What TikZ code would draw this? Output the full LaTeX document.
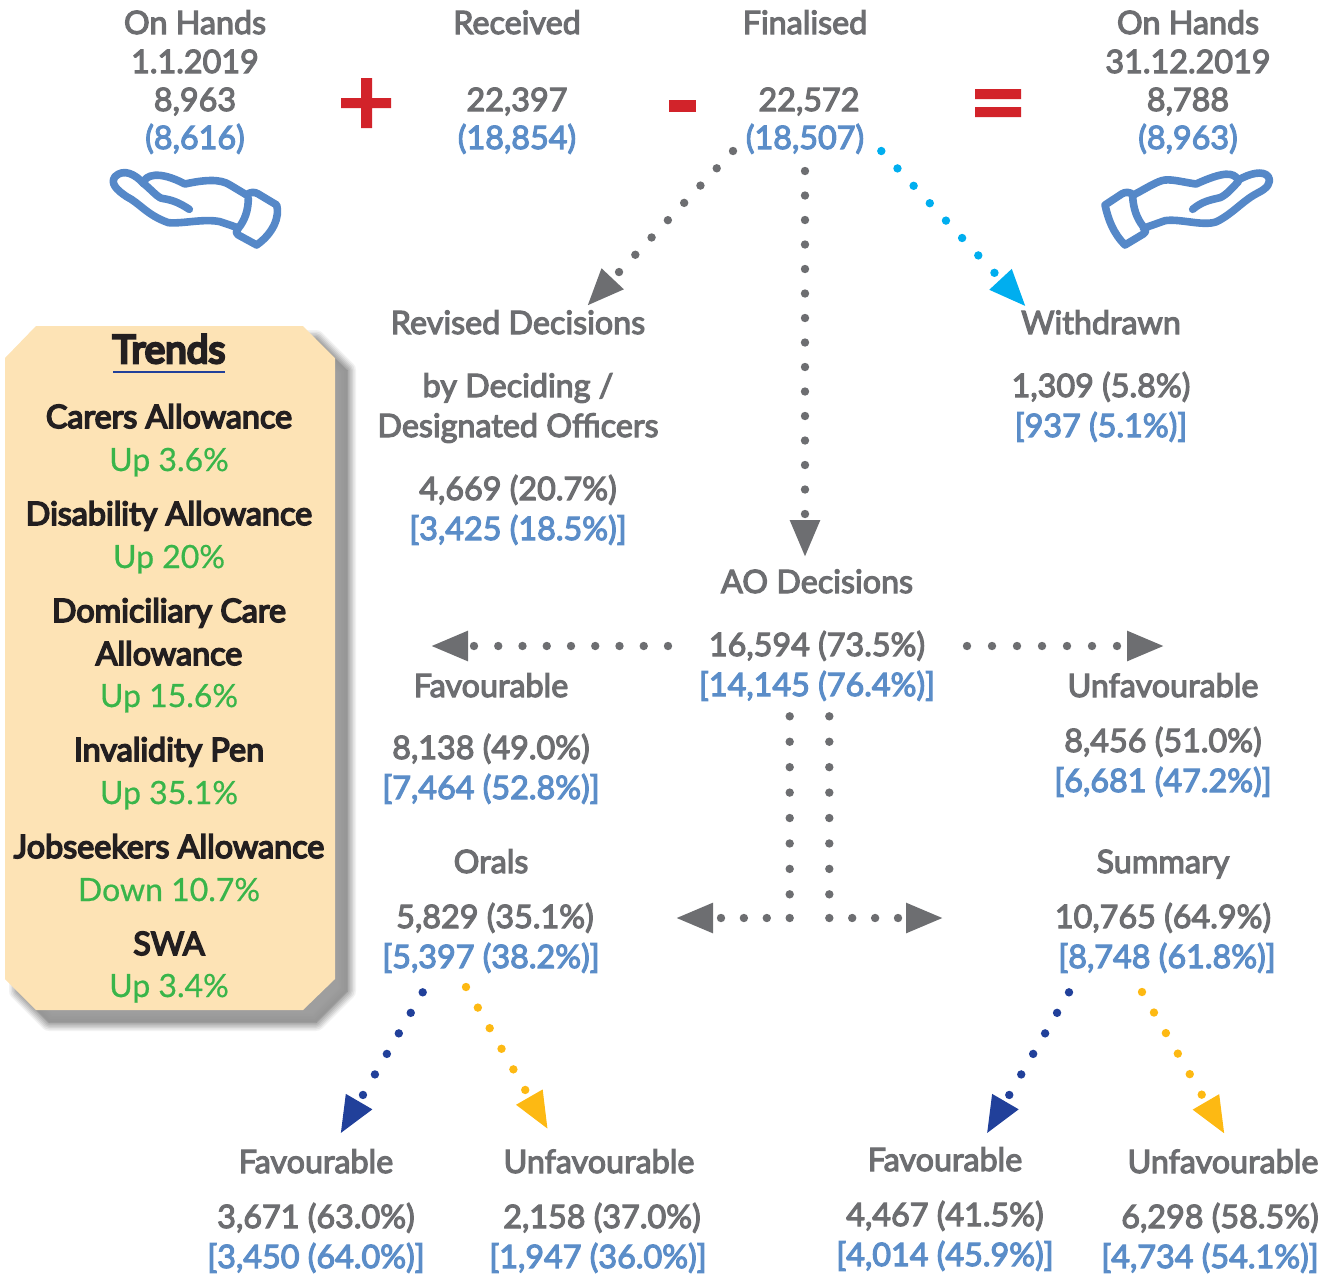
\documentclass[tikz,border=0pt]{standalone}
\usepackage{fontspec}
\setmainfont{Lato}[FakeBold=3.6]
\newfontfamily\latoreg{Lato}[FakeBold=0.6]
\newfontfamily\latobold{Lato}[FakeBold=7]
\newfontfamily\latodark{Lato}[FakeBold=5]
\usetikzlibrary{arrows.meta}
\definecolor{txtgray}{HTML}{6D6E71}
\definecolor{txtblue}{HTML}{5B8DC8}
\definecolor{txtdark}{HTML}{231F20}
\definecolor{txtgreen}{HTML}{39B54A}
\definecolor{panelfill}{HTML}{FDE3B5}
\definecolor{opred}{HTML}{D2232A}
\definecolor{acyan}{HTML}{00AEEF}
\definecolor{anavy}{HTML}{21409A}
\definecolor{agold}{HTML}{FDB913}
\definecolor{handblue}{HTML}{5588C8}
\tikzset{
  x=1pt,y=-1pt,
  lab/.style={anchor=base,inner sep=0pt,outer sep=0pt,yshift=-1pt,font=\fontsize{32.3}{32}\selectfont},
  g/.style={lab,text=txtgray},
  b/.style={lab,text=txtblue},
  pk/.style={anchor=base,inner sep=0pt,yshift=-1pt,font=\fontsize{32.3}{32}\selectfont\latodark,text=txtdark},
  pg/.style={anchor=base,inner sep=0pt,yshift=-1pt,font=\fontsize{32}{32}\selectfont\latoreg,text=txtgreen},
  conn/.style={line width=8.4pt,line cap=round,dash pattern=on 0pt off 23.75pt,color=#1,shorten >=-1.5pt,
     -{Triangle[length=37.5pt,width=28pt,color=#1]}},
  bent/.style={dash pattern=on 0pt off 25.43pt on 0pt off 25.43pt on 0pt off 25.43pt on 0pt off 25.43pt on 0pt off 25.43pt on 0pt off 25.43pt on 0pt off 25.43pt on 0pt off 23.7pt on 0pt off 22.9pt on 0pt off 22.9pt on 0pt off 22.9pt on 0pt off 22.9pt},
  hand/.style={draw=handblue,line width=7.6pt,line cap=round,line join=round},
}
\begin{document}
\begin{tikzpicture}
\useasboundingbox (0,0) rectangle (1327,1275);
% top row
\node[g] (n1) at (195,33) {On Hands};
\node[g] (n2) at (195,72) {1.1.2019};
\node[g] (n3) at (195,110) {8,963};
\node[b] (n4) at (195,148) {(8,616)};
\node[g] (r1) at (517,33) {Received};
\node[g] (r2) at (517,110) {22,397};
\node[b] (r3) at (517,148) {(18,854)};
\node[g] (f1) at (805,33) {Finalised};
\node[g] (f2) at (809,110) {22,572};
\node[b] (f3) at (805,148) {(18,507)};
\node[g] (e1) at (1188,33) {On Hands};
\node[g] (e2) at (1188,72) {31.12.2019};
\node[g] (e3) at (1188,110) {8,788};
\node[b] (e4) at (1188,148) {(8,963)};
% operators
\fill[opred] (341,98) rectangle (391,108) (361,78) rectangle (372,128);
\fill[opred] (669,100) rectangle (696,112);
\fill[opred] (975,89) rectangle (1021,99) (975,107) rectangle (1021,117);
% hands
\begin{scope}[shift={(90,150)},x=0.3333pt,y=-0.3333pt]
\draw[hand] (160,100) .. controls (135,72) and (100,55) .. (75,80) .. controls (60,100) and (80,120) .. (110,140)
  .. controls (150,160) and (170,195) .. (235,218) .. controls (280,222) and (340,205) .. (390,215) -- (440,232);
\draw[hand] (160,100) .. controls (165,75) and (205,60) .. (285,102) .. controls (340,90) and (390,85) .. (420,105) -- (470,135);
\draw[hand] (160,100) .. controls (180,115) and (200,140) .. (215,145) .. controls (250,150) and (270,160) .. (298,178);
\draw[hand] (470,135) .. controls (480,125) and (495,125) .. (505,132) -- (560,165)
  .. controls (570,200) and (550,250) .. (500,285) -- (445,255) .. controls (435,248) and (440,240) .. (445,235)
  .. controls (465,210) and (475,180) .. (475,145);
\end{scope}
\begin{scope}[shift={(1090,150)},x=0.3333pt,y=-0.3333pt]
\draw[hand] (445,90) .. controls (480,70) and (520,60) .. (535,80) .. controls (545,100) and (530,115) .. (505,128)
  .. controls (460,150) and (430,190) .. (380,215) .. controls (340,230) and (270,205) .. (225,212) -- (160,235);
\draw[hand] (445,90) .. controls (430,65) and (400,65) .. (318,102) .. controls (270,95) and (240,85) .. (215,92) .. controls (190,100) and (160,120) .. (130,135);
\draw[hand] (445,95) .. controls (430,110) and (410,135) .. (390,143) .. controls (360,150) and (335,155) .. (308,178);
\draw[hand] (130,135) .. controls (120,125) and (105,125) .. (95,132) -- (45,165)
  .. controls (55,210) and (70,250) .. (105,285) -- (160,252) .. controls (172,245) and (165,235) .. (160,230)
  .. controls (140,205) and (130,175) .. (128,140);
\end{scope}
% panel
\foreach \w/\o in {18/.12,15/.16,12/.2,9/.24,6/.3,3/.38,0/.5}{
  \filldraw[line join=round,line width=\w pt,color=black!42,opacity=\o]
   (49,339) -- (316,339) -- (347,370) -- (347,991) -- (316,1022) -- (49,1022) -- (18,991) -- (18,370) -- cycle;
}
\fill[panelfill] (36,326) -- (303,326) -- (335,358) -- (335,979) -- (303,1010) -- (36,1010) -- (5,979) -- (5,358) -- cycle;
\node[anchor=base,inner sep=0pt,font=\fontsize{38.8}{38}\selectfont\latobold,text=txtdark] (t0) at (169,363) {Trends};
\draw[anavy,line width=1.5pt] (113,372) -- (225,372);
\node[pk] (t1) at (169,427) {Carers Allowance};
\node[pg] (t2) at (169,470) {Up 3.6\%};
\node[pk] (t3) at (169,524) {Disability Allowance};
\node[pg] (t4) at (169,567) {Up 20\%};
\node[pk] (t5) at (169,621) {Domiciliary Care};
\node[pk] (t6) at (169,664) {Allowance};
\node[pg] (t7) at (169,706) {Up 15.6\%};
\node[pk] (t8) at (169,760) {Invalidity Pen};
\node[pg] (t9) at (169,803) {Up 35.1\%};
\node[pk] (t10) at (169,857) {Jobseekers Allowance};
\node[pg] (t11) at (169,900) {Down 10.7\%};
\node[pk] (t12) at (169,954) {SWA};
\node[pg] (t13) at (169,996) {Up 3.4\%};
% middle
\node[g] (rd1) at (518,333) {Revised Decisions};
\node[g] (rd2) at (518,396) {by Deciding /};
\node[g] (rd3) at (518,436) {Designated Officers};
\node[g] (rd4) at (518,499) {4,669 (20.7\%)};
\node[b] (rd5) at (518,539) {[3,425 (18.5\%)]};
\node[g] (w1) at (1101,333) {Withdrawn};
\node[g] (w2) at (1101,396) {1,309 (5.8\%)};
\node[b] (w3) at (1101,436) {[937 (5.1\%)]};
\node[g] (ao1) at (817,592) {AO Decisions};
\node[g] (ao2) at (817,655) {16,594 (73.5\%)};
\node[b] (ao3) at (817,695) {[14,145 (76.4\%)]};
\node[g] (fa1) at (491,696) {Favourable};
\node[g] (fa2) at (491,758) {8,138 (49.0\%)};
\node[b] (fa3) at (491,798) {[7,464 (52.8\%)]};
\node[g] (un1) at (1163,696) {Unfavourable};
\node[g] (un2) at (1163,751) {8,456 (51.0\%)};
\node[b] (un3) at (1163,791) {[6,681 (47.2\%)]};
\node[g] (or1) at (491,872) {Orals};
\node[g] (or2) at (495,927) {5,829 (35.1\%)};
\node[b] (or3) at (491,967) {[5,397 (38.2\%)]};
\node[g] (su1) at (1163,872) {Summary};
\node[g] (su2) at (1163,927) {10,765 (64.9\%)};
\node[b] (su3) at (1167,967) {[8,748 (61.8\%)]};
% bottom
\node[g] (a1) at (316,1172) {Favourable};
\node[g] (a2) at (316,1227) {3,671 (63.0\%)};
\node[b] (a3) at (316,1267) {[3,450 (64.0\%)]};
\node[g] (c1) at (599,1172) {Unfavourable};
\node[g] (c2) at (602,1227) {2,158 (37.0\%)};
\node[b] (c3) at (598,1267) {[1,947 (36.0\%)]};
\node[g] (d1) at (945,1170) {Favourable};
\node[g] (d2) at (945,1225) {4,467 (41.5\%)};
\node[b] (d3) at (945,1265) {[4,014 (45.9\%)]};
\node[g] (h1) at (1223,1172) {Unfavourable};
\node[g] (h2) at (1220,1227) {6,298 (58.5\%)};
\node[b] (h3) at (1210,1267) {[4,734 (54.1\%)]};
% connector ends
\coordinate (s1) at (733,151); \coordinate (e1c) at (588,305);
\coordinate (s2) at (805,171); \coordinate (e2c) at (805,556);
\coordinate (s3) at (881.3,151); \coordinate (e3c) at (1025,305.7);
\coordinate (s4) at (668,646); \coordinate (e4c) at (432,646);
\coordinate (s5) at (967,646); \coordinate (e5c) at (1163,646);
\coordinate (s6) at (789.7,716.3); \coordinate (k6) at (789.7,918); \coordinate (e6c) at (677,918);
\coordinate (s7) at (829.3,716.3); \coordinate (k7) at (829.3,918); \coordinate (e7c) at (942,918);
\coordinate (s8) at (422.7,992.3); \coordinate (e8c) at (341,1132.7);
\coordinate (s9) at (466,987); \coordinate (e9c) at (547.3,1128.3);
\coordinate (s10) at (1069,992.3); \coordinate (e10c) at (987.3,1132.7);
\coordinate (s11) at (1142,992); \coordinate (e11c) at (1224,1133);
\draw[conn=txtgray] (s1) -- (e1c);
\draw[conn=txtgray,dash pattern=on 0pt off 24.5pt] (s2) -- (e2c);
\draw[conn=acyan] (s3) -- (e3c);
\draw[conn=txtgray,dash pattern=on 0pt off 24.25pt] (s4) -- (e4c);
\draw[conn=txtgray,dash pattern=on 0pt off 25pt] (s5) -- (e5c);
\draw[conn=txtgray,bent] (s6) -- (k6) -- (e6c);
\draw[conn=txtgray,bent] (s7) -- (k7) -- (e7c);
\draw[conn=anavy] (s8) -- (e8c);
\draw[conn=agold] (s9) -- (e9c);
\draw[conn=anavy] (s10) -- (e10c);
\draw[conn=agold] (s11) -- (e11c);
\end{tikzpicture}
\end{document}
